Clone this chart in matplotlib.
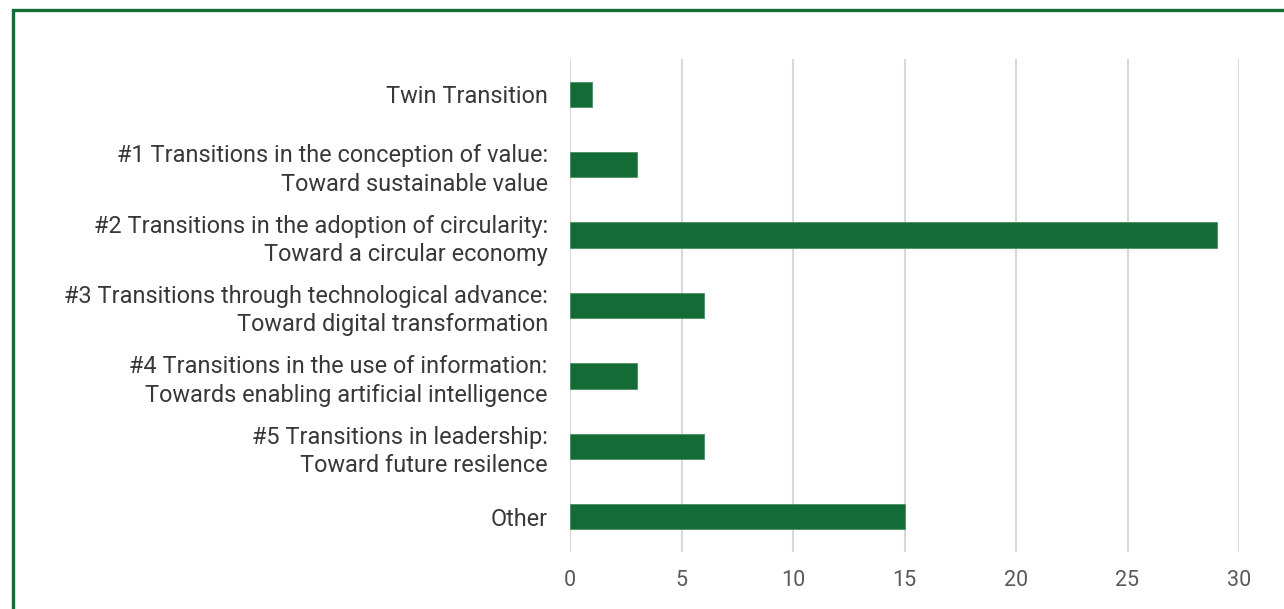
import numpy as np
import matplotlib.pyplot as plt
from matplotlib.patches import Rectangle

# categories top to bottom
categories = [
    "Twin Transition",
    "#1 Transitions in the conception of value:\nToward sustainable value",
    "#2 Transitions in the adoption of circularity:\nToward a circular economy",
    "#3 Transitions through technological advance:\nToward digital transformation",
    "#4 Transitions in the use of information:\nTowards enabling artificial intelligence",
    "#5 Transitions in leadership:\nToward future resilence",
    "Other",
]
counts = [1, 3, 29, 6, 3, 6, 15]
xticks = [0, 5, 10, 15, 20, 25, 30]

green = "#136b36"
plt.rcParams['font.family'] = ['Roboto', 'DejaVu Sans']

fig = plt.figure(figsize=(12.84, 6.09), dpi=100)
ax = fig.add_axes([570 / 1284, 1 - 552 / 609, 669 / 1284, 493 / 609])

y = np.arange(len(categories))
ax.barh(y, counts, height=0.36, color=green, edgecolor="#4a8f62", linewidth=0.6, zorder=3)
ax.set_ylim(len(categories) - 0.5, -0.5)
ax.set_xlim(0, 30)
ax.set_xticks(xticks)
ax.set_yticks(y)
ax.set_yticklabels(categories, fontsize=16.9, color="#383838", linespacing=1.3)
ax.tick_params(axis='x', length=0, pad=13, labelsize=15.5, labelcolor="#595959")
ax.tick_params(axis='y', length=0, pad=16)
ax.grid(axis='x', color="#d9d9d9", linewidth=1.5, zorder=0)
for s in ax.spines.values():
    s.set_visible(False)

# green frame around the figure (only top and left visible)
fig.patches.append(Rectangle((13 / 1284, -0.1), 1.2, 1.1 - 10.5 / 609,
                             transform=fig.transFigure, fill=False,
                             edgecolor=green, linewidth=2.4, zorder=10))

fig.savefig("out.png", dpi=100)
